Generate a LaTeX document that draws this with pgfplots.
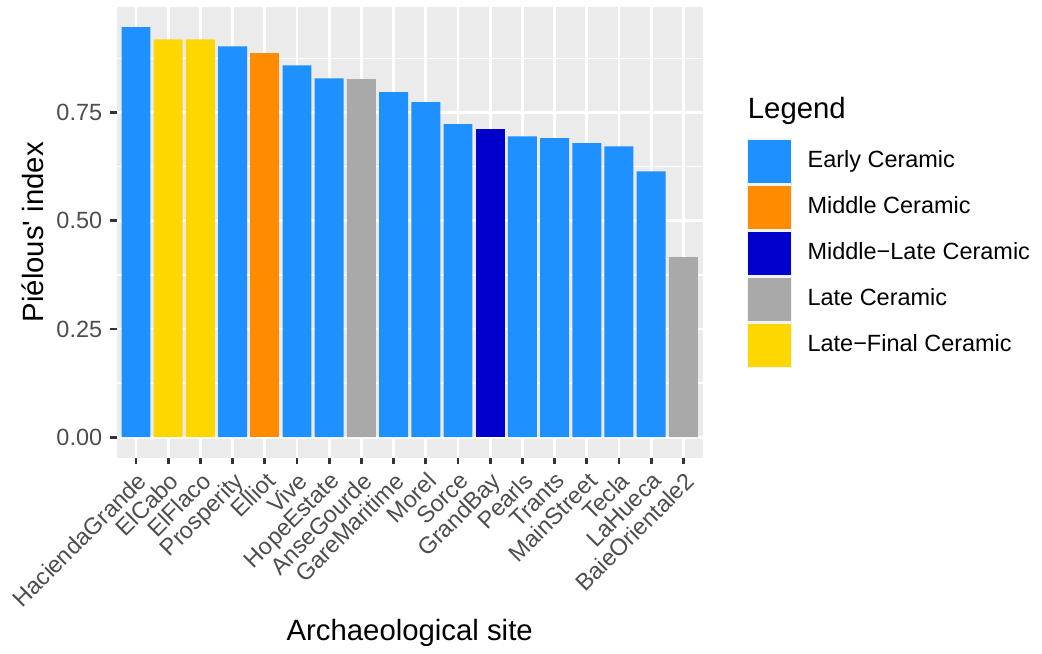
\documentclass[border=0pt]{standalone}
\usepackage{fontspec}
\setmainfont{Liberation Sans}
\usepackage{pgfplots}
\pgfplotsset{compat=1.18}

\definecolor{early}{RGB}{30,144,255}
\definecolor{middle}{RGB}{255,140,0}
\definecolor{midlate}{RGB}{0,0,205}
\definecolor{late}{RGB}{169,169,169}
\definecolor{latefinal}{RGB}{255,215,0}
\definecolor{panelbg}{RGB}{235,235,235}
\definecolor{keybg}{RGB}{242,242,242}
\definecolor{tickgray}{RGB}{51,51,51}
\definecolor{ticklab}{RGB}{77,77,77}

\begin{document}
\begin{tikzpicture}
% page = 1042x654 px at 0.375bp/px, origin at lower left of the panel
\path[use as bounding box] (-43.76bp,-73.61bp) rectangle (346.99bp,171.64bp);
\begin{axis}[
  at={(0,0)}, anchor=south west,
  scale only axis, width=219.75bp, height=169.13bp,
  xmin=0.4, xmax=18.6, ymin=-0.04735, ymax=0.99435,
  axis line style={draw=none},
  axis background/.style={fill=panelbg},
  ybar, bar width=0.9,
  xtick={1,...,18},
  xticklabels={HaciendaGrande,ElCabo,ElFlaco,Prosperity,Elliot,Vive,HopeEstate,AnseGourde,GareMaritime,Morel,Sorce,GrandBay,Pearls,Trants,MainStreet,Tecla,LaHueca,BaieOrientale2},
  ytick={0,0.25,0.5,0.75},
  yticklabels={0.00,0.25,0.50,0.75},
  minor ytick={0.125,0.375,0.625,0.875},
  xmajorgrids, ymajorgrids, yminorgrids,
  major grid style={white, line width=1bp},
  minor grid style={white, line width=0.5bp},
  tick align=outside, tick pos=left,
  major tick length=2.5bp, minor tick length=0pt,
  tick style={color=tickgray, line width=1bp},
  ticklabel style={font=\fontsize{8.8bp}{10bp}\selectfont, text=ticklab},
  xticklabel style={rotate=45, anchor=north east, inner sep=0pt},
  yticklabel style={anchor=east, inner sep=0pt},
  xticklabel shift=2.2bp, yticklabel shift=2.75bp,
  xlabel={Archaeological site},
  ylabel={Piélous\textquotesingle{} index},
  every axis x label/.style={at={(axis description cs:0.5,-0.4063)}, anchor=base, font=\fontsize{11bp}{13bp}\selectfont},
  every axis y label/.style={at={(axis description cs:-0.1429,0.5)}, rotate=90, anchor=center, font=\fontsize{11bp}{13bp}\selectfont},
  legend style={at={(1.0751,0.7079)}, anchor=north west, draw=none, fill=none,
    inner sep=0pt, outer sep=0pt, row sep=0pt, column sep=3.75bp,
    font=\fontsize{8.8bp}{10bp}\selectfont, cells={inner sep=0pt}},
  legend cell align=left,
  legend image code/.code={
    \fill[keybg] (0bp,-8.625bp) rectangle (17.1bp,8.625bp);
    \fill[#1] (0.56bp,-8.06bp) rectangle (16.54bp,8.06bp);
  },
]
\addplot[fill=early, draw=none, bar shift=0pt] coordinates {
  (1,0.947) (4,0.903) (6,0.859) (7,0.829) (9,0.797) (10,0.774)
  (11,0.723) (13,0.695) (14,0.691) (15,0.679) (16,0.672) (17,0.614)};
\addlegendentry{Early Ceramic}
\addplot[fill=middle, draw=none, bar shift=0pt] coordinates {(5,0.887)};
\addlegendentry{Middle Ceramic}
\addplot[fill=midlate, draw=none, bar shift=0pt] coordinates {(12,0.711)};
\addlegendentry{Middle−Late Ceramic}
\addplot[fill=late, draw=none, bar shift=0pt] coordinates {(8,0.827) (18,0.416)};
\addlegendentry{Late Ceramic}
\addplot[fill=latefinal, draw=none, bar shift=0pt] coordinates {(2,0.919) (3,0.919)};
\addlegendentry{Late−Final Ceramic}
\end{axis}
\node[anchor=base west, inner sep=0pt, font=\fontsize{11bp}{13bp}\selectfont] at (236.5bp,127.3bp) {Legend};
\end{tikzpicture}
\end{document}
